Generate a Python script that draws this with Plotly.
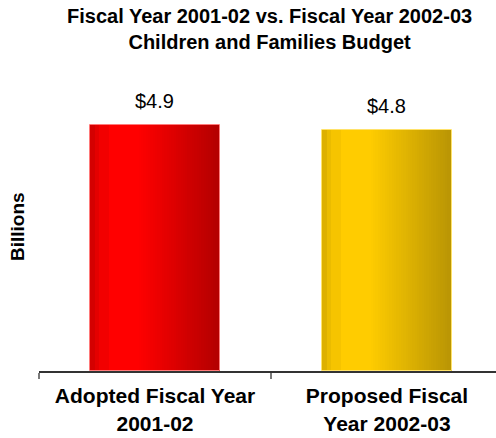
import plotly.graph_objects as go

# Budget totals in billions of dollars
categories = ["Adopted Fiscal Year 2001-02", "Proposed Fiscal Year 2002-03"]
tick_labels = ["Adopted Fiscal Year<br>2001-02", "Proposed Fiscal<br>Year 2002-03"]
values = [4.9, 4.8]
value_labels = ["$4.9", "$4.8"]

title_lines = ["Fiscal Year 2001-02 vs. Fiscal Year 2002-03", "Children and Families Budget"]
y_title = "Billions"

FONT = "Liberation Sans, Arial, sans-serif"

# Horizontal shading stops for each bar (position across bar width, colour)
red_stops = [(0.0, (212, 0, 0)), (0.04, (212, 0, 0)), (0.04, (228, 0, 0)), (0.08, (228, 0, 0)),
             (0.08, (242, 0, 0)), (0.15, (242, 0, 0)), (0.15, (255, 0, 0)), (0.37, (255, 0, 0)),
             (1.0, (178, 0, 0))]
gold_stops = [(0.0, (221, 176, 0)), (0.04, (221, 176, 0)), (0.04, (235, 188, 0)), (0.08, (235, 188, 0)),
              (0.08, (246, 196, 0)), (0.15, (246, 196, 0)), (0.15, (255, 204, 0)), (0.37, (255, 204, 0)),
              (1.0, (184, 148, 4))]
outline_colors = ["#ff7a7a", "#ffe26a"]


def shade(stops, t):
    for (p0, c0), (p1, c1) in zip(stops[:-1], stops[1:]):
        if p0 <= t <= p1:
            if p1 == p0:
                return c1
            f = (t - p0) / (p1 - p0)
            return tuple(round(a + (b - a) * f) for a, b in zip(c0, c1))
    return stops[-1][1]


fig = go.Figure()

bar_w = 0.56
n_strips = 56
step = bar_w / n_strips
for i in range(n_strips):
    t = (i + 0.5) / n_strips
    off = -bar_w / 2 + i * step
    w = min(step * 1.8, bar_w / 2 - off)
    cols = ["rgb(%d,%d,%d)" % shade(red_stops, t), "rgb(%d,%d,%d)" % shade(gold_stops, t)]
    fig.add_trace(go.Bar(
        x=categories, y=values, width=w, offset=off,
        marker=dict(color=cols, line=dict(width=0)),
        hoverinfo="skip", showlegend=False,
    ))

# thin light edge around each bar
fig.add_trace(go.Bar(
    x=categories, y=values, width=bar_w, offset=-bar_w / 2,
    marker=dict(color="rgba(0,0,0,0)", line=dict(color=outline_colors, width=1)),
    showlegend=False, hovertemplate="%{x}: $%{y}B<extra></extra>",
))

# value labels above the bars
for c, v, lab in zip(categories, values, value_labels):
    fig.add_annotation(x=c, y=v, text=lab, showarrow=False, yanchor="bottom", yshift=11,
                       font=dict(family=FONT, size=20, color="#000000"))

# two-line chart title
fig.add_annotation(xref="paper", yref="paper", x=0.505, y=1.136,
                   text="<b>%s</b>" % "<br>".join(title_lines),
                   showarrow=False, yanchor="middle", font=dict(family=FONT, size=20, color="#000000"))

# rotated y-axis caption
fig.add_annotation(xref="paper", yref="paper", x=0, y=0.48, xshift=-9, text="<b>%s</b>" % y_title,
                   textangle=-90, showarrow=False, xanchor="right", yanchor="middle",
                   font=dict(family=FONT, size=19, color="#000000"))

fig.update_layout(
    width=496, height=438,
    margin=dict(l=39, r=0, t=70, b=67),
    paper_bgcolor="#ffffff", plot_bgcolor="#ffffff",
    barmode="overlay", bargap=0,
    xaxis=dict(
        type="category", range=[-0.5, 1.47],
        tickmode="array", tickvals=categories,
        ticktext=["<b>%s</b>" % t for t in tick_labels],
        tickson="boundaries", ticks="outside", ticklen=6, tickwidth=2, tickcolor="#7a7a7a",
        ticklabelstandoff=5,
        showline=True, linecolor="#333333", linewidth=2,
        showgrid=False, zeroline=False,
        tickfont=dict(family=FONT, size=21, color="#000000"),
        fixedrange=True,
    ),
    yaxis=dict(
        range=[0, 6], showticklabels=False, ticks="", showgrid=False,
        zeroline=False, showline=False, fixedrange=True,
    ),
)

fig.write_html("out.html")
